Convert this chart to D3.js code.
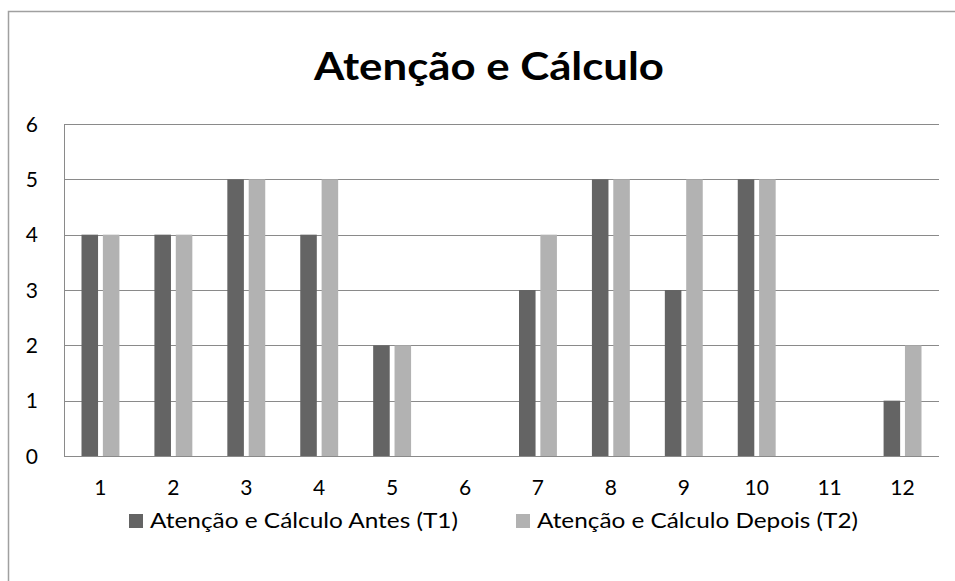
<!DOCTYPE html>
<html><head><meta charset="utf-8">
<script src="https://cdn.jsdelivr.net/npm/d3@7"></script>
<style>body{margin:0;background:#fff}svg{display:block}text{font-family:Lato,"Open Sans",sans-serif}</style>
</head><body>
<svg id="c" width="955" height="581"></svg>
<script>
const categories = ["1","2","3","4","5","6","7","8","9","10","11","12"];
const seriesNames = ["Atenção e Cálculo Antes (T1)", "Atenção e Cálculo Depois (T2)"];
const antes  = [4,4,5,4,2,0,3,5,3,5,0,1];
const depois = [4,4,5,5,2,0,4,5,5,5,0,2];
const yTicks = [0,1,2,3,4,5,6];
const colors = ["#646464", "#b2b2b2"];
const title = "Atenção e Cálculo";

const svg = d3.select("#c");
const L = 64, R = 939, T = 124, B = 456;

svg.append("rect").attr("x",8.5).attr("y",11.5).attr("width",1000).attr("height",1000)
  .attr("fill","#fff").attr("stroke","#a0a0a0").attr("stroke-width",1.5);

const x = d3.scaleBand().domain(categories).range([L,R]).paddingInner(0).paddingOuter(0);
const y = d3.scaleLinear().domain([0,6]).range([B,T]);

// gridlines
svg.append("g").selectAll("line").data(yTicks).join("line")
  .attr("x1",L).attr("x2",R).attr("y1",d=>Math.round(y(d))+0.5).attr("y2",d=>Math.round(y(d))+0.5)
  .attr("stroke","#8a8a8a").attr("stroke-width",1);
svg.append("line").attr("x1",L+0.5).attr("x2",L+0.5).attr("y1",T).attr("y2",B+1)
  .attr("stroke","#8a8a8a");

const bw = x.bandwidth();
const barW = bw*0.227, gap = bw*0.066, pad = (bw - 2*barW - gap)/2;
const series = [antes, depois];
series.forEach((vals,si)=>{
  svg.append("g").selectAll("rect").data(vals).join("rect")
    .attr("x",(d,i)=>x(categories[i]) + pad + si*(barW+gap))
    .attr("width",barW)
    .attr("y",d=>y(d))
    .attr("height",d=>y(0)-y(d))
    .attr("fill",colors[si]);
});

// axis labels
svg.append("g").selectAll("text").data(yTicks).join("text")
  .attr("x",38).attr("y",d=>y(d)+7.5).attr("text-anchor","end")
  .attr("font-size",21).attr("fill","#000").text(d=>d);
svg.append("g").selectAll("text").data(categories).join("text")
  .attr("x",d=>x(d)+bw/2).attr("y",495).attr("text-anchor","middle")
  .attr("font-size",21).attr("fill","#000").text(d=>d);

// title
svg.append("text").attr("x",489).attr("y",80).attr("text-anchor","middle")
  .attr("font-size",39).attr("font-weight","bold").attr("fill","#000")
  .attr("textLength",350).attr("lengthAdjust","spacingAndGlyphs").text(title);

// legend
const leg = [{sx:129, tx:150, tw:308},{sx:516, tx:537, tw:321}];
leg.forEach((l,i)=>{
  svg.append("rect").attr("x",l.sx).attr("y",514).attr("width",14).attr("height",14).attr("fill",colors[i]);
  svg.append("text").attr("x",l.tx).attr("y",528).attr("font-size",21).attr("fill","#000")
    .attr("textLength",l.tw).attr("lengthAdjust","spacingAndGlyphs").text(seriesNames[i]);
});
</script>
</body></html>
